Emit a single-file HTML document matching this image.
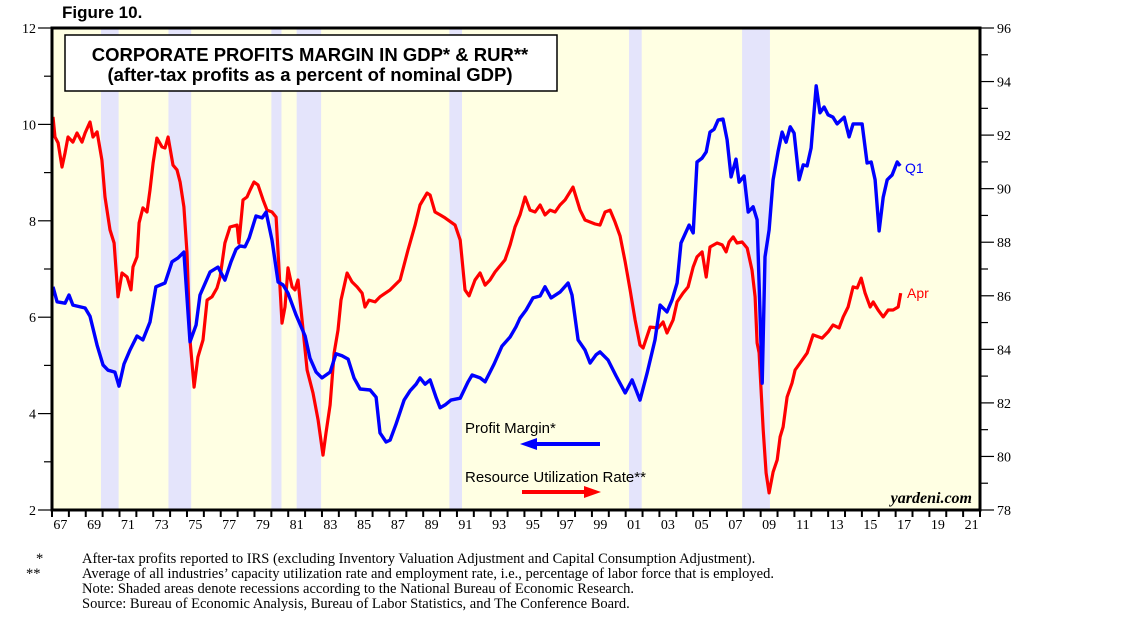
<!DOCTYPE html>
<html><head><meta charset="utf-8"><style>
body{margin:0;background:#fff;width:1138px;height:626px;overflow:hidden;font-family:"Liberation Sans",sans-serif}
svg{position:absolute;left:0;top:0}
</style></head><body>
<svg id="chart" width="1138" height="626" viewBox="0 0 1138 626" xmlns="http://www.w3.org/2000/svg">
<text x="62" y="18" font-family="Liberation Sans" font-weight="bold" font-size="17">Figure 10.</text>
<rect x="52" y="28" width="928" height="482" fill="#ffffe3"/>
<g id="rec"></g>
<g id="grid"></g>
<g id="lines"></g>
<rect x="52" y="28" width="928" height="482" fill="none" stroke="#000" stroke-width="3"/>
<g>
<rect x="65" y="35" width="492" height="56" fill="#fff" stroke="#000" stroke-width="1.5"/>
<text x="310" y="61" text-anchor="middle" font-weight="bold" font-size="18.5">CORPORATE PROFITS MARGIN IN GDP* &amp; RUR**</text>
<text x="310" y="81" text-anchor="middle" font-weight="bold" font-size="18.5">(after-tax profits as a percent of nominal GDP)</text>
</g>
<text x="465" y="433" font-size="15">Profit Margin*</text>
<path d="M600 444 H535" stroke="#0000ff" stroke-width="4"/>
<polygon points="520,444 537,438 537,450" fill="#0000ff"/>
<text x="465" y="482" font-size="15">Resource Utilization Rate**</text>
<path d="M522 492 H586" stroke="#ff0000" stroke-width="4"/>
<polygon points="601,492 584,486 584,498" fill="#ff0000"/>
<text x="972" y="503" text-anchor="end" font-family="Liberation Serif" font-weight="bold" font-style="italic" font-size="16">yardeni.com</text>
<text x="905" y="173" fill="#0000ff" font-size="14">Q1</text>
<text x="907" y="298" fill="#ff0000" font-size="14">Apr</text>
<g font-family="Liberation Serif" font-size="14.5">
<text x="36" y="563">*</text><text x="82" y="563">After-tax profits reported to IRS (excluding Inventory Valuation Adjustment and Capital Consumption Adjustment).</text>
<text x="26" y="578">**</text><text x="82" y="578">Average of all industries’ capacity utilization rate and employment rate, i.e., percentage of labor force that is employed.</text>
<text x="82" y="593">Note: Shaded areas denote recessions according to the National Bureau of Economic Research.</text>
<text x="82" y="608">Source: Bureau of Economic Analysis, Bureau of Labor Statistics, and The Conference Board.</text>
</g>
</svg>
<script>
const recStart=[1969.9,1973.9,1980.0,1981.5,1990.55,2001.2,2007.9];
const recEnd=[1970.95,1975.25,1980.6,1982.95,1991.3,2001.95,2009.55];
const leftTicks=[2,4,6,8,10,12];
const rightTicks=[78,80,82,84,86,88,90,92,94,96];
const yearLabels=["67","69","71","73","75","77","79","81","83","85","87","89","91","93","95","97","99","01","03","05","07","09","11","13","15","17","19","21"];
const pmYears=[1967.06,1967.3,1967.77,1968.01,1968.24,1968.96,1969.25,1969.67,1970.02,1970.32,1970.73,1970.97,1971.27,1971.62,1972.04,1972.39,1972.81,1973.16,1973.7,1974.11,1974.47,1974.82,1975.18,1975.54,1975.77,1976.37,1976.84,1977.25,1977.61,1977.91,1978.14,1978.44,1978.68,1979.09,1979.45,1979.69,1980.04,1980.4,1980.69,1980.99,1981.46,1982.0,1982.29,1982.65,1983.0,1983.48,1983.83,1984.19,1984.55,1984.9,1985.26,1985.85,1986.21,1986.44,1986.8,1987.04,1987.39,1987.87,1988.22,1988.58,1988.81,1989.11,1989.41,1989.76,1990.0,1990.3,1990.65,1991.19,1991.66,1991.9,1992.37,1992.67,1992.96,1993.2,1993.67,1994.15,1994.5,1994.74,1995.1,1995.51,1995.93,1996.22,1996.58,1997.11,1997.59,1997.82,1998.18,1998.59,1998.89,1999.25,1999.48,1999.96,2000.43,2000.97,2001.38,2001.85,2002.27,2002.74,2003.04,2003.45,2003.75,2004.05,2004.28,2004.76,2005.0,2005.23,2005.53,2005.77,2006.0,2006.24,2006.48,2006.77,2007.01,2007.25,2007.54,2007.72,2008.02,2008.26,2008.55,2008.79,2009.09,2009.26,2009.5,2009.74,2010.03,2010.27,2010.51,2010.75,2010.98,2011.28,2011.52,2011.75,2011.99,2012.29,2012.52,2012.76,2013.0,2013.29,2013.53,2013.95,2014.24,2014.48,2015.01,2015.31,2015.55,2015.78,2016.02,2016.26,2016.5,2016.79,2017.09,2017.27];
const pmValues=[6.63,6.32,6.29,6.46,6.25,6.19,6.02,5.42,5.01,4.9,4.86,4.57,5.03,5.32,5.61,5.53,5.9,6.63,6.71,7.15,7.23,7.35,5.49,5.84,6.46,6.94,7.04,6.77,7.15,7.41,7.48,7.46,7.64,8.1,8.06,8.18,7.6,6.73,6.67,6.5,6.05,5.61,5.15,4.86,4.74,4.86,5.24,5.2,5.13,4.74,4.51,4.49,4.34,3.6,3.41,3.45,3.78,4.28,4.47,4.61,4.74,4.61,4.7,4.34,4.12,4.18,4.28,4.32,4.66,4.8,4.74,4.66,4.86,5.03,5.4,5.59,5.8,5.98,6.15,6.4,6.44,6.63,6.4,6.52,6.71,6.46,5.53,5.32,5.05,5.22,5.28,5.11,4.78,4.43,4.7,4.28,4.84,5.53,6.25,6.11,6.36,6.71,7.54,7.91,7.75,9.22,9.3,9.43,9.84,9.9,10.09,10.11,9.68,8.91,9.28,8.8,8.93,8.18,8.29,8.02,4.63,7.25,7.81,8.85,9.43,9.84,9.63,9.95,9.82,8.85,9.16,9.14,9.51,10.8,10.24,10.36,10.2,10.15,10.01,10.15,9.74,10.01,10.01,9.2,9.22,8.85,7.79,8.49,8.85,8.95,9.22,9.14];
const rurYears=[1967.06,1967.18,1967.36,1967.59,1967.77,1967.95,1968.24,1968.48,1968.78,1968.96,1969.25,1969.43,1969.67,1969.96,1970.14,1970.44,1970.68,1970.91,1971.15,1971.45,1971.68,1971.8,1972.04,1972.16,1972.39,1972.63,1972.81,1972.99,1973.22,1973.52,1973.7,1973.88,1974.17,1974.41,1974.59,1974.82,1975.0,1975.18,1975.42,1975.65,1975.95,1976.19,1976.48,1976.78,1976.96,1977.25,1977.55,1977.97,1978.08,1978.32,1978.56,1978.74,1978.97,1979.21,1979.51,1979.74,1980.04,1980.28,1980.4,1980.63,1980.81,1980.99,1981.23,1981.4,1981.58,1981.88,1982.12,1982.47,1982.77,1983.06,1983.24,1983.48,1983.72,1983.95,1984.13,1984.49,1984.78,1985.08,1985.38,1985.55,1985.79,1986.15,1986.44,1987.04,1987.63,1988.1,1988.52,1988.81,1989.23,1989.41,1989.7,1990.0,1990.3,1990.89,1991.19,1991.48,1991.72,1992.07,1992.37,1992.67,1992.96,1993.26,1993.85,1994.15,1994.44,1994.74,1995.04,1995.33,1995.63,1995.93,1996.22,1996.52,1996.82,1997.11,1997.41,1997.88,1998.3,1998.59,1999.19,1999.48,1999.78,2000.08,2000.37,2000.67,2000.97,2001.26,2001.56,2001.85,2002.03,2002.45,2002.92,2003.22,2003.45,2003.81,2004.05,2004.4,2004.7,2005.0,2005.23,2005.53,2005.77,2006.0,2006.42,2006.72,2006.95,2007.13,2007.37,2007.6,2007.9,2008.2,2008.49,2008.67,2008.79,2008.91,2009.15,2009.32,2009.5,2009.74,2009.98,2010.15,2010.33,2010.57,2010.86,2011.04,2011.34,2011.75,2012.11,2012.64,2013.0,2013.29,2013.65,2013.89,2014.18,2014.48,2014.72,2014.96,2015.19,2015.49,2015.67,2015.96,2016.26,2016.56,2016.85,2017.15,2017.3];
const rurValues=[92.68,91.93,91.71,90.81,91.33,91.93,91.74,92.08,91.74,92.08,92.49,91.93,92.12,91.07,89.69,88.46,87.97,85.96,86.85,86.7,86.22,87.08,87.45,88.72,89.28,89.13,89.95,90.96,91.89,91.56,91.52,91.93,90.88,90.7,90.25,89.32,87.6,84.35,82.59,83.71,84.35,85.84,85.96,86.29,86.7,87.97,88.57,88.64,87.97,89.58,89.69,89.95,90.25,90.14,89.58,89.2,89.13,88.94,87.6,84.98,85.58,87.04,86.33,86.22,86.59,84.72,83.23,82.37,81.36,80.05,80.88,81.92,83.86,84.72,85.84,86.85,86.52,86.33,86.1,85.58,85.84,85.77,85.96,86.22,86.59,87.71,88.64,89.39,89.84,89.76,89.13,89.02,88.91,88.64,88.08,86.22,86.0,86.59,86.85,86.4,86.59,86.89,87.34,87.9,88.57,89.02,89.69,89.2,89.13,89.39,89.02,89.2,89.13,89.39,89.58,90.06,89.2,88.83,88.68,88.64,89.13,89.2,88.76,88.23,87.26,86.22,85.1,84.16,84.05,84.83,84.8,85.02,84.61,85.1,85.77,86.1,86.33,87.08,87.45,87.64,86.7,87.82,87.97,87.9,87.64,88.01,88.2,87.97,88.01,87.78,86.96,85.96,84.24,83.87,80.99,79.38,78.64,79.42,79.87,80.73,81.1,82.22,82.74,83.23,83.49,83.86,84.54,84.42,84.65,84.91,84.8,85.21,85.58,86.33,86.29,86.66,86.1,85.58,85.77,85.47,85.21,85.47,85.47,85.58,86.1];

const X0=52,X1=980,Y0=28,Y1=510,T0=1967,T1=2022;
const xs=t=>X0+(t-T0)*(X1-X0)/(T1-T0);
const yl=v=>Y1-(v-2)*(Y1-Y0)/10;
const yr=v=>Y1-(v-78)*(Y1-Y0)/18;
const NS="http://www.w3.org/2000/svg";
function mk(tag,attrs,parent){const e=document.createElementNS(NS,tag);for(const k in attrs)e.setAttribute(k,attrs[k]);parent.appendChild(e);return e;}
const rec=document.getElementById('rec'),grid=document.getElementById('grid'),lines=document.getElementById('lines');
recStart.forEach((s,i)=>{
  const r=mk('rect',{x:xs(s),y:Y0,width:xs(recEnd[i])-xs(s),height:Y1-Y0,fill:'#e4e4fb'},rec);
  
  
});
for(let v=2;v<=12;v++){
  const major=v%2===0;
  const t=mk('line',{x1:major?38:44,x2:X0,y1:yl(v),y2:yl(v),stroke:'#000','stroke-width':1.2},grid);
  
  
}
leftTicks.forEach(v=>{
  const t=mk('text',{x:36,y:yl(v)+5,'text-anchor':'end','font-family':'Liberation Serif','font-size':14},grid);
  t.textContent=v;
  
  
});
for(let v=78;v<=96;v++){
  const major=v%2===0;
  const t=mk('line',{x1:X1,x2:major?994:988,y1:yr(v),y2:yr(v),stroke:'#000','stroke-width':1.2},grid);
  
  
}
rightTicks.forEach(v=>{
  const t=mk('text',{x:997,y:yr(v)+5,'font-family':'Liberation Serif','font-size':14},grid);
  t.textContent=v;
  
  
});
for(let yv=T0;yv<=T1;yv++){
  const t=mk('line',{x1:xs(yv),x2:xs(yv),y1:Y1,y2:Y1+7,stroke:'#000','stroke-width':2},grid);
  
  
}
yearLabels.forEach((l,i)=>{
  const t=mk('text',{x:xs(T0+2*i+0.5),y:529,'text-anchor':'middle','font-family':'Liberation Serif','font-size':14},grid);
  t.textContent=l;
  
  
});
const rp=mk('polyline',{points:rurYears.map((t,i)=>xs(t).toFixed(1)+','+yr(rurValues[i]).toFixed(1)).join(' '),fill:'none',stroke:'#ff0000','stroke-width':3.2,'stroke-linejoin':'round'},lines);


const bp=mk('polyline',{points:pmYears.map((t,i)=>xs(t).toFixed(1)+','+yl(pmValues[i]).toFixed(1)).join(' '),fill:'none',stroke:'#0000ff','stroke-width':3.4,'stroke-linejoin':'round'},lines);


</script>
</body></html>
